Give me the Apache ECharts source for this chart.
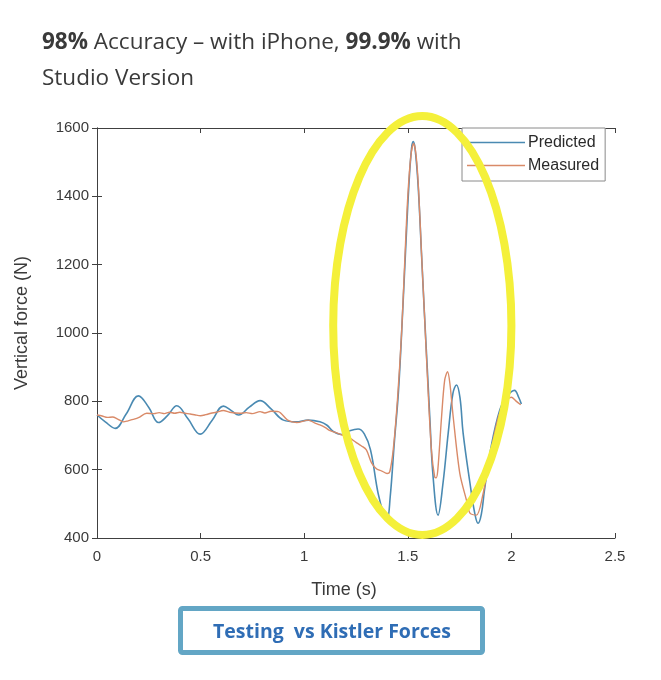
<!DOCTYPE html>
<html>
<head>
<meta charset="utf-8">
<script src="https://cdn.jsdelivr.net/npm/echarts@6/dist/echarts.min.js"></script>
<style>
html,body{margin:0;padding:0;background:#fff;}
#chart{width:661px;height:680px;}
</style>
</head>
<body>
<div id="chart"></div>
<script>
// ---- Data ----
const xTicks = [0, 0.5, 1, 1.5, 2, 2.5];
const yTicks = [400, 600, 800, 1000, 1200, 1400, 1600];
const seriesNames = ['Predicted', 'Measured'];

const timePredicted = [0, 0.04, 0.088, 0.14, 0.2, 0.25, 0.297, 0.34, 0.385, 0.44, 0.498, 0.555, 0.61, 0.65, 0.683, 0.735, 0.787, 0.84, 0.9, 0.96, 1.02, 1.076, 1.11, 1.14, 1.18, 1.22, 1.26, 1.29, 1.32, 1.357, 1.385, 1.4, 1.415, 1.435, 1.455, 1.475, 1.49, 1.505, 1.518, 1.526, 1.535, 1.55, 1.566, 1.58, 1.598, 1.606, 1.622, 1.646, 1.67, 1.695, 1.718, 1.735, 1.752, 1.767, 1.8, 1.823, 1.839, 1.855, 1.87, 1.9, 1.944, 1.98, 2.015, 2.035, 2.048];
const predicted = [760, 740, 721, 762, 816, 782, 738, 758, 787, 748, 704, 744, 786, 772, 760, 783, 802, 778, 745, 740, 745, 740, 730, 712, 703, 714, 719, 705, 658, 530, 468, 455, 520, 680, 830, 1060, 1250, 1430, 1540, 1560, 1540, 1430, 1234, 1060, 850, 755, 580, 467, 561, 707, 824, 848, 810, 707, 561, 473, 443, 470, 540, 660, 775, 815, 832, 812, 792];

const timeMeasured = [0, 0.025, 0.05, 0.075, 0.1, 0.128, 0.15, 0.175, 0.2, 0.24, 0.275, 0.3, 0.325, 0.35, 0.375, 0.4, 0.425, 0.45, 0.475, 0.5, 0.525, 0.55, 0.575, 0.61, 0.64, 0.69, 0.72, 0.75, 0.787, 0.81, 0.84, 0.875, 0.92, 0.964, 1.02, 1.05, 1.076, 1.1, 1.125, 1.15, 1.18, 1.22, 1.25, 1.275, 1.3, 1.325, 1.35, 1.375, 1.4, 1.413, 1.43, 1.45, 1.47, 1.486, 1.5, 1.515, 1.528, 1.54, 1.552, 1.566, 1.58, 1.598, 1.615, 1.63, 1.637, 1.645, 1.663, 1.678, 1.692, 1.703, 1.719, 1.751, 1.783, 1.8, 1.831, 1.86, 1.9, 1.94, 1.98, 2.0, 2.02, 2.045];
const measured = [760, 757, 753, 754, 748, 740, 743, 747, 752, 765, 764, 767, 764, 768, 765, 768, 765, 763, 760, 758, 761, 765, 768, 773, 768, 765, 767, 764, 770, 766, 771, 770, 745, 738, 745, 737, 731, 724, 714, 709, 702, 692, 680, 670, 658, 620, 602, 596, 589, 594, 660, 804, 1000, 1220, 1400, 1520, 1555, 1520, 1420, 1234, 1060, 830, 650, 578, 576, 600, 755, 862, 887, 853, 755, 589, 511, 473, 467, 520, 650, 760, 805, 812, 802, 790];

// ---- Chart ----
const chart = echarts.init(document.getElementById('chart'), null, {renderer: 'canvas'});
const axisColor = '#404040';
const labelColor = '#3a3a3a';
const fontFam = '"Liberation Sans", Arial, sans-serif';
const blue = '#4a8ab2';
const orange = '#d98a68';

const option = {
  backgroundColor: '#ffffff',
  animation: false,
  title: {
    left: 37,
    top: 20,
    text: '{b|98%} Accuracy – with iPhone, {b|99.9%} with\nStudio Version',
    textStyle: {
      fontFamily: '"Open Sans", sans-serif',
      fontSize: 22.5,
      fontWeight: 'normal',
      color: '#3a3a3a',
      lineHeight: 36,
      rich: {
        b: {fontFamily: '"Open Sans", sans-serif', fontSize: 22.5, fontWeight: 'bold', color: '#3a3a3a', lineHeight: 36}
      }
    }
  },
  grid: {left: 97, top: 128, width: 518, height: 410, containLabel: false},
  legend: {
    orient: 'vertical',
    left: 462,
    top: 128,
    width: 151,
    data: seriesNames,
    icon: 'rect',
    backgroundColor: '#ffffff',
    borderColor: '#8a8a8a',
    borderWidth: 1,
    padding: [6, 6, 7, 5],
    itemWidth: 58,
    itemHeight: 1.5,
    itemGap: 6,
    textStyle: {fontFamily: fontFam, fontSize: 16, color: '#2a2a2a', padding: [0, 0, 0, -2], lineHeight: 17},
    z: 6
  },
  xAxis: [
    {
      type: 'value', position: 'bottom', min: 0, max: 2.5, interval: 0.5,
      name: 'Time (s)', nameLocation: 'middle', nameGap: 43,
      nameTextStyle: {fontFamily: fontFam, fontSize: 18, color: labelColor, padding: [0, 24, 0, 0]},
      axisLine: {show: true, lineStyle: {color: axisColor, width: 1}},
      axisTick: {show: true, inside: true, length: 5, lineStyle: {color: axisColor}},
      axisLabel: {fontFamily: fontFam, fontSize: 15, color: labelColor, margin: 11,
        formatter: v => (xTicks.indexOf(v) >= 0 ? String(v) : '')},
      splitLine: {show: false}
    },
    {
      type: 'value', position: 'top', min: 0, max: 2.5, interval: 0.5,
      axisLine: {show: true, lineStyle: {color: axisColor, width: 1}},
      axisTick: {show: true, inside: true, length: 5, lineStyle: {color: axisColor}},
      axisLabel: {show: false},
      splitLine: {show: false}
    }
  ],
  yAxis: [
    {
      type: 'value', position: 'left', min: 400, max: 1600, interval: 200,
      name: 'Vertical force (N)', nameLocation: 'middle', nameGap: 66, nameRotate: 90,
      nameTextStyle: {fontFamily: fontFam, fontSize: 18, color: labelColor, padding: [0, 0, 0, 20]},
      axisLine: {show: true, lineStyle: {color: axisColor, width: 1}},
      axisTick: {show: true, inside: true, length: 5, lineStyle: {color: axisColor}},
      axisLabel: {fontFamily: fontFam, fontSize: 15, color: labelColor, margin: 8,
        formatter: v => (yTicks.indexOf(v) >= 0 ? String(v) : '')},
      splitLine: {show: false}
    },
    {
      type: 'value', position: 'right', min: 400, max: 1600, interval: 200,
      axisLine: {show: true, lineStyle: {color: axisColor, width: 1}},
      axisTick: {show: true, inside: true, length: 5, lineStyle: {color: axisColor}},
      axisLabel: {show: false},
      splitLine: {show: false}
    }
  ],
  series: [
    {
      name: seriesNames[0], type: 'line', xAxisIndex: 0, yAxisIndex: 0,
      data: timePredicted.map((t, i) => [t, predicted[i]]),
      symbol: 'none', smooth: 0.4,
      lineStyle: {color: blue, width: 1.6},
      itemStyle: {color: blue},
      z: 3
    },
    {
      name: seriesNames[1], type: 'line', xAxisIndex: 0, yAxisIndex: 0,
      data: timeMeasured.map((t, i) => [t, measured[i]]),
      symbol: 'none', smooth: 0.3,
      lineStyle: {color: orange, width: 1.4},
      itemStyle: {color: orange},
      z: 4
    }
  ]
};
chart.setOption(option);

// Highlight ellipse, positioned in data coordinates
const ellCenter = chart.convertToPixel({gridIndex: 0}, [1.57, 1022]);
const ellEdge = chart.convertToPixel({gridIndex: 0}, [1.57 + 0.43, 1022 + 613]);
chart.setOption({
  graphic: [
    {
      type: 'ellipse', z: 20,
      shape: {cx: ellCenter[0], cy: ellCenter[1], rx: Math.abs(ellEdge[0] - ellCenter[0]), ry: Math.abs(ellEdge[1] - ellCenter[1])},
      style: {fill: 'none', stroke: '#f4f03a', lineWidth: 8}
    },
    {
      type: 'rect', z: 20,
      shape: {x: 180.5, y: 608.5, width: 302, height: 44, r: 2},
      style: {fill: '#ffffff', stroke: '#63a6c5', lineWidth: 5}
    },
    {
      type: 'text', z: 21,
      style: {
        x: 332, y: 632, text: 'Testing  vs Kistler Forces',
        fontFamily: '"Open Sans", sans-serif', fontSize: 19.5, fontWeight: 'bold',
        fill: '#2f6db5', textAlign: 'center', textVerticalAlign: 'middle'
      }
    }
  ]
});
</script>
</body>
</html>
